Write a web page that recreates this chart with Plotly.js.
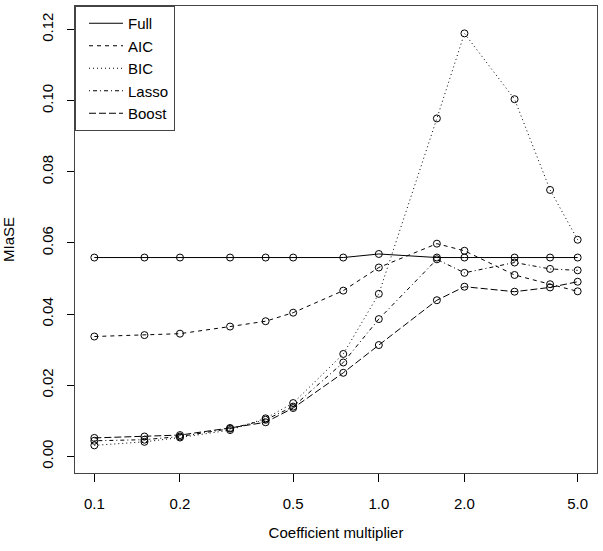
<!DOCTYPE html>
<html>
<head>
<meta charset="utf-8">
<script src="https://cdn.plot.ly/plotly-3.0.1.min.js"></script>
<style>
  html, body { margin: 0; padding: 0; background: #fff; }
  #chart { width: 603px; height: 551px; }
</style>
</head>
<body>
<div id="chart"></div>
<script>
// coefficient multipliers (log axis)
const multipliers = [0.1, 0.15, 0.2, 0.3, 0.4, 0.5, 0.75, 1.0, 1.6, 2.0, 3.0, 4.0, 5.0];

// MIaSE per method
const full  = [0.0559, 0.0559, 0.0559, 0.0559, 0.0559, 0.0559, 0.0559, 0.0569, 0.0559, 0.0559, 0.0559, 0.0559, 0.0559];
const aic   = [0.0337, 0.0341, 0.0345, 0.0365, 0.0380, 0.0404, 0.0466, 0.0531, 0.0598, 0.0578, 0.0510, 0.0484, 0.0464];
const bic   = [0.0031, 0.0041, 0.0053, 0.0074, 0.0107, 0.0150, 0.0288, 0.0457, 0.0950, 0.1189, 0.1004, 0.0749, 0.0609];
const lasso = [0.0044, 0.0047, 0.0056, 0.0078, 0.0103, 0.0140, 0.0264, 0.0386, 0.0554, 0.0516, 0.0545, 0.0527, 0.0523];
const boost = [0.0052, 0.0056, 0.0060, 0.0080, 0.0096, 0.0136, 0.0235, 0.0313, 0.0439, 0.0477, 0.0463, 0.0475, 0.0491];

const seriesNames = ['Full', 'AIC', 'BIC', 'Lasso', 'Boost'];
const seriesValues = [full, aic, bic, lasso, boost];
const dashes = ['solid', '4px,4px', '1px,3px', '1px,3px,4px,3px', '7px,3px'];

const xTicks = [0.1, 0.2, 0.5, 1.0, 2.0, 5.0];
const xTickText = ['0.1', '0.2', '0.5', '1.0', '2.0', '5.0'];
const yTicks = [0, 0.02, 0.04, 0.06, 0.08, 0.1, 0.12];
const yTickText = ['0.00', '0.02', '0.04', '0.06', '0.08', '0.10', '0.12'];

const traces = [];
seriesNames.forEach((name, i) => {
    traces.push({
        x: multipliers,
        y: seriesValues[i],
        type: 'scatter',
        mode: 'lines+markers',
        name: name,
        showlegend: false,
        line: { color: '#000', width: 1, dash: dashes[i] },
        marker: { symbol: 'circle-open', size: 7, color: '#000', line: { width: 1, color: '#000' } }
    });
});
// legend entries show only the line style
seriesNames.forEach((name, i) => {
    traces.push({
        x: [null],
        y: [null],
        type: 'scatter',
        mode: 'lines',
        name: name,
        line: { color: '#000', width: 1, dash: dashes[i] }
    });
});

const axisFont = { family: 'Liberation Sans, Arial, sans-serif', size: 15, color: '#000' };

const layout = {
    width: 603,
    height: 551,
    margin: { l: 75, r: 6, t: 6, b: 78 },
    paper_bgcolor: '#fff',
    plot_bgcolor: '#fff',
    font: axisFont,
    showlegend: true,
    legend: {
        x: 0, y: 1, xanchor: 'left', yanchor: 'top',
        bgcolor: '#fff',
        bordercolor: '#444',
        borderwidth: 1,
        font: axisFont,
        indentation: 8,
        itemwidth: 34
    },
    xaxis: {
        type: 'log',
        range: [Math.log10(0.1) - 0.068, Math.log10(5) + 0.068],
        tickvals: xTicks,
        ticktext: xTickText,
        ticks: 'outside',
        ticklen: 8,
        tickcolor: '#000',
        ticklabelstandoff: 9,
        showgrid: false,
        zeroline: false,
        showline: true,
        mirror: true,
        linecolor: '#444',
        linewidth: 1,
        tickfont: axisFont,
        title: { text: 'Coefficient multiplier', font: axisFont, standoff: 16 }
    },
    yaxis: {
        range: [-0.00466, 0.1266],
        tickvals: yTicks,
        ticktext: yTickText,
        tickangle: -90,
        ticks: 'outside',
        ticklen: 7,
        tickcolor: '#000',
        ticklabelstandoff: 8,
        showgrid: false,
        zeroline: false,
        showline: true,
        mirror: true,
        linecolor: '#444',
        linewidth: 1,
        tickfont: axisFont,
        title: { text: 'MIaSE', font: axisFont, standoff: 20 }
    }
};

Plotly.newPlot('chart', traces, layout, { displayModeBar: false, responsive: false });
</script>
</body>
</html>
